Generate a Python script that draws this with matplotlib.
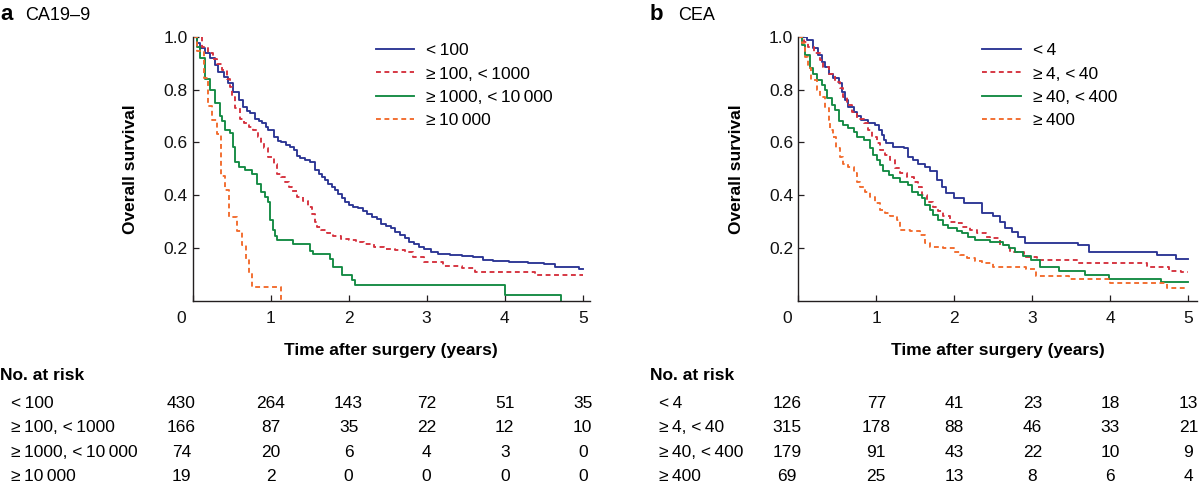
import matplotlib
matplotlib.use('Agg')
import matplotlib.pyplot as plt
import matplotlib.transforms as mtransforms
from matplotlib.lines import Line2D

plt.rcParams['font.family'] = ['Liberation Sans', 'DejaVu Sans']

TS = '\u2009'

# ---------------- Data: panel a (CA19-9) ----------------
ca_labels = [f'<{TS}100', f'≥{TS}100, <{TS}1000', f'≥{TS}1000, <{TS}10{TS}000', f'≥{TS}10{TS}000']

ca_lt100_t = [0, 0.06, 0.10, 0.16, 0.22, 0.29, 0.33, 0.40, 0.46, 0.52, 0.59, 0.65, 0.70, 0.74, 0.80,
              0.85, 0.89, 0.94, 0.97, 1.04, 1.10, 1.14, 1.20, 1.25, 1.30, 1.34, 1.38, 1.44, 1.51, 1.57,
              1.62, 1.66, 1.70, 1.74, 1.79, 1.83, 1.87, 1.91, 1.96, 2.00, 2.06, 2.12, 2.18, 2.24, 2.30,
              2.36, 2.42, 2.48, 2.54, 2.60, 2.66, 2.72, 2.78, 2.84, 2.90, 2.97, 3.05, 3.15, 3.30, 3.45,
              3.60, 3.72, 3.85, 4.05, 4.30, 4.50, 4.65, 4.80, 4.95, 5.0]
ca_lt100_s = [1, 0.975, 0.956, 0.937, 0.918, 0.893, 0.867, 0.848, 0.823, 0.79, 0.76, 0.735, 0.72, 0.71, 0.69,
              0.68, 0.672, 0.66, 0.646, 0.62, 0.605, 0.60, 0.59, 0.583, 0.57, 0.55, 0.54, 0.533, 0.527, 0.495,
              0.48, 0.47, 0.456, 0.444, 0.43, 0.42, 0.405, 0.388, 0.375, 0.362, 0.355, 0.35, 0.34, 0.33, 0.318,
              0.31, 0.293, 0.285, 0.275, 0.262, 0.25, 0.237, 0.225, 0.215, 0.205, 0.195, 0.186, 0.177, 0.174, 0.17,
              0.168, 0.155, 0.152, 0.146, 0.142, 0.139, 0.13, 0.127, 0.121, 0.121]

ca_100_1000_t = [0, 0.12, 0.20, 0.26, 0.32, 0.38, 0.44, 0.48, 0.51, 0.55, 0.61, 0.66, 0.72, 0.78, 0.84,
                 0.88, 0.92, 0.97, 1.04, 1.08, 1.14, 1.19, 1.24, 1.28, 1.34, 1.42, 1.48, 1.53, 1.57, 1.60,
                 1.65, 1.72, 1.80, 1.90, 2.00, 2.10, 2.20, 2.32, 2.45, 2.60, 2.72, 2.82, 2.96, 3.21, 3.45,
                 3.62, 4.39, 5.0]
ca_100_1000_s = [1, 0.962, 0.94, 0.915, 0.895, 0.875, 0.84, 0.81, 0.77, 0.73, 0.69, 0.675, 0.66, 0.646, 0.62,
                 0.60, 0.58, 0.545, 0.52, 0.48, 0.47, 0.45, 0.43, 0.415, 0.394, 0.38, 0.356, 0.33, 0.30, 0.28,
                 0.27, 0.258, 0.245, 0.236, 0.23, 0.222, 0.215, 0.205, 0.198, 0.193, 0.187, 0.165, 0.146, 0.134, 0.124,
                 0.11, 0.098, 0.098]

ca_1000_10000_t = [0, 0.06, 0.10, 0.16, 0.22, 0.29, 0.35, 0.38, 0.42, 0.48, 0.52, 0.55, 0.59, 0.67, 0.76,
                   0.82, 0.88, 0.93, 0.97, 0.99, 1.03, 1.06, 1.08, 1.29, 1.51, 1.55, 1.76, 1.80, 1.91, 2.04,
                   2.08, 4.0, 4.72]
ca_1000_10000_s = [1, 0.96, 0.92, 0.84, 0.80, 0.75, 0.70, 0.68, 0.646, 0.634, 0.583, 0.527, 0.508, 0.495, 0.482,
                   0.444, 0.413, 0.394, 0.375, 0.305, 0.268, 0.245, 0.23, 0.217, 0.19, 0.179, 0.16, 0.13, 0.097, 0.078,
                   0.06, 0.023, 0.0]

ca_ge10000_t = [0, 0.06, 0.15, 0.20, 0.25, 0.31, 0.37, 0.42, 0.47, 0.57, 0.63, 0.69, 0.72, 0.76, 1.14]
ca_ge10000_s = [1, 0.947, 0.842, 0.737, 0.684, 0.632, 0.474, 0.421, 0.316, 0.263, 0.211, 0.158, 0.105, 0.053, 0.0]

ca_risk_lt100 = [430, 264, 143, 72, 51, 35]
ca_risk_100_1000 = [166, 87, 35, 22, 12, 10]
ca_risk_1000_10000 = [74, 20, 6, 4, 3, 0]
ca_risk_ge10000 = [19, 2, 0, 0, 0, 0]

# ---------------- Data: panel b (CEA) ----------------
cea_labels = [f'<{TS}4', f'≥{TS}4, <{TS}40', f'≥{TS}40, <{TS}400', f'≥{TS}400']

cea_lt4_t = [0, 0.11, 0.19, 0.26, 0.30, 0.34, 0.39, 0.45, 0.52, 0.56, 0.60, 0.64, 0.71, 0.75, 0.81,
             0.90, 0.99, 1.03, 1.07, 1.10, 1.13, 1.22, 1.35, 1.41, 1.47, 1.54, 1.62, 1.69, 1.78, 1.84,
             1.90, 1.99, 2.12, 2.36, 2.49, 2.59, 2.65, 2.74, 2.82, 2.91, 3.58, 3.72, 4.60, 4.84, 5.0]
cea_lt4_s = [1, 0.987, 0.956, 0.93, 0.905, 0.887, 0.86, 0.842, 0.824, 0.79, 0.76, 0.735, 0.716, 0.70, 0.685,
             0.672, 0.666, 0.647, 0.628, 0.61, 0.597, 0.584, 0.578, 0.546, 0.533, 0.52, 0.508, 0.49, 0.458, 0.433,
             0.408, 0.389, 0.37, 0.332, 0.32, 0.30, 0.275, 0.262, 0.244, 0.22, 0.21, 0.186, 0.174, 0.16, 0.16]

cea_4_40_t = [0, 0.07, 0.13, 0.20, 0.28, 0.32, 0.40, 0.47, 0.54, 0.58, 0.62, 0.69, 0.75, 0.84, 0.90,
              0.94, 1.01, 1.05, 1.11, 1.18, 1.24, 1.30, 1.39, 1.48, 1.54, 1.58, 1.65, 1.73, 1.79, 1.86,
              1.94, 2.03, 2.10, 2.20, 2.29, 2.40, 2.46, 2.59, 2.72, 2.89, 3.06, 3.59, 4.47, 4.75, 4.90, 5.0]
cea_4_40_s = [1, 0.98, 0.962, 0.94, 0.912, 0.887, 0.86, 0.83, 0.805, 0.773, 0.742, 0.716, 0.69, 0.672, 0.647,
              0.62, 0.597, 0.572, 0.553, 0.534, 0.502, 0.483, 0.47, 0.452, 0.433, 0.40, 0.376, 0.357, 0.339, 0.32,
              0.30, 0.294, 0.28, 0.27, 0.257, 0.244, 0.237, 0.212, 0.187, 0.168, 0.155, 0.142, 0.127, 0.115, 0.108, 0.108]

cea_40_400_t = [0, 0.05, 0.09, 0.15, 0.19, 0.24, 0.30, 0.34, 0.37, 0.43, 0.47, 0.52, 0.58, 0.64, 0.71,
                0.75, 0.84, 0.92, 0.96, 1.01, 1.05, 1.09, 1.16, 1.22, 1.30, 1.41, 1.46, 1.54, 1.58, 1.63,
                1.69, 1.73, 1.79, 1.86, 1.92, 2.03, 2.10, 2.17, 2.26, 2.46, 2.62, 2.70, 2.78, 2.88, 2.98,
                3.10, 3.34, 3.68, 3.98, 4.65, 5.0]
cea_40_400_s = [1, 0.97, 0.93, 0.88, 0.86, 0.836, 0.817, 0.80, 0.767, 0.742, 0.723, 0.68, 0.666, 0.654, 0.64,
                0.62, 0.61, 0.578, 0.553, 0.535, 0.515, 0.49, 0.477, 0.465, 0.452, 0.44, 0.414, 0.40, 0.389, 0.364,
                0.345, 0.326, 0.307, 0.288, 0.276, 0.263, 0.257, 0.244, 0.231, 0.225, 0.212, 0.20, 0.187, 0.17, 0.155,
                0.13, 0.115, 0.097, 0.083, 0.071, 0.071]

cea_ge400_t = [0, 0.05, 0.09, 0.13, 0.17, 0.24, 0.28, 0.34, 0.39, 0.41, 0.45, 0.49, 0.54, 0.58, 0.64,
               0.71, 0.75, 0.79, 0.86, 0.92, 0.99, 1.05, 1.11, 1.18, 1.26, 1.31, 1.43, 1.56, 1.63, 1.69,
               1.86, 1.99, 2.07, 2.16, 2.26, 2.36, 2.49, 2.92, 3.05, 3.47, 4.0, 4.72, 5.0]
cea_ge400_s = [1, 0.975, 0.924, 0.88, 0.836, 0.80, 0.773, 0.73, 0.685, 0.647, 0.62, 0.578, 0.546, 0.52, 0.508,
               0.483, 0.452, 0.433, 0.414, 0.395, 0.37, 0.345, 0.332, 0.32, 0.307, 0.27, 0.263, 0.25, 0.219, 0.206,
               0.20, 0.187, 0.175, 0.162, 0.15, 0.142, 0.13, 0.12, 0.095, 0.083, 0.068, 0.05, 0.05]

cea_risk_lt4 = [126, 77, 41, 23, 18, 13]
cea_risk_4_40 = [315, 178, 88, 46, 33, 21]
cea_risk_40_400 = [179, 91, 43, 22, 10, 9]
cea_risk_ge400 = [69, 25, 13, 8, 6, 4]

risk_times = [0, 1, 2, 3, 4, 5]
xticks = [0, 1, 2, 3, 4, 5]
yticks = [0.2, 0.4, 0.6, 0.8, 1.0]
ytick_labels = ['0.2', '0.4', '0.6', '0.8', '1.0']

# ---------------- Styles ----------------
colors = ['#2b3594', '#d5313d', '#138a43', '#f26a2b']
styles = ['-', (0, (2.6, 1.9)), '-', (0, (2.6, 1.9))]
LW = 1.35
FS = 12.5
SPINE = '#231f20'

W, H = 1200, 490
fig = plt.figure(figsize=(W / 100, H / 100), dpi=100)
fig.patch.set_facecolor('white')


def draw_panel(left_px, xmax, curves, labels, risks, letter, title,
               letter_px, title_px, header_px, rowlab_px):
    ax_bottom_px, ax_top_px = 301.0, 36.7
    width_px = xmax * 78.05
    ax = fig.add_axes([left_px / W, 1 - ax_bottom_px / H, width_px / W, (ax_bottom_px - ax_top_px) / H])
    handles = []
    for (t, s), c, ls in zip(curves, colors, styles):
        ax.step(t, s, where='post', color=c, lw=LW, linestyle=ls)
        handles.append(Line2D([], [], color=c, lw=LW, linestyle=ls))
    ax.set_xlim(0, xmax)
    ax.set_ylim(0, 1.0)
    ax.set_xticks(xticks)
    ax.set_xticklabels([str(v) for v in xticks])
    ax.set_yticks(yticks)
    ax.set_yticklabels(ytick_labels)
    for sp in ['top', 'right']:
        ax.spines[sp].set_visible(False)
    for sp in ['left', 'bottom']:
        ax.spines[sp].set_linewidth(1.0)
        ax.spines[sp].set_color(SPINE)
    ax.tick_params(axis='both', direction='in', length=4, width=0.9, color=SPINE,
                   labelsize=FS, labelcolor='#111111')
    ax.tick_params(axis='x', pad=7)
    ax.tick_params(axis='y', pad=3.5)
    # first x tick label sits slightly to the left of the origin
    shift = mtransforms.ScaledTranslation(-11 / 100, 0, fig.dpi_scale_trans)
    lbl0 = ax.get_xticklabels()[0]
    lbl0.set_transform(lbl0.get_transform() + shift)

    ax.set_xlabel('Time after surgery (years)', fontsize=FS, fontweight='bold', va='center')
    ax.xaxis.set_label_coords(0.5, (ax_bottom_px - 350) / (ax_bottom_px - ax_top_px))
    ax.set_ylabel('Overall survival', fontsize=FS, fontweight='bold', va='center')
    ax.yaxis.set_label_coords(-62.0 / width_px, 0.5)

    ax.legend(handles, labels, loc='upper left', bbox_to_anchor=(0.462, 0.976), frameon=False,
              borderaxespad=0, borderpad=0, handlelength=2.2, handletextpad=0.7,
              labelspacing=0.47, fontsize=FS)

    # panel letter + title
    fig.text(letter_px / W, 1 - 15 / H, letter, fontsize=16, fontweight='bold', va='center', ha='left')
    fig.text(title_px / W, 1 - 15 / H, title, fontsize=13, va='center', ha='left')

    # risk table
    fig.text(header_px / W, 1 - 375 / H, 'No. at risk', fontsize=FS, fontweight='bold', va='center', ha='left')
    row_y = [403, 427.5, 452, 476]
    blend = mtransforms.blended_transform_factory(ax.transData, fig.transFigure)
    for lab, vals, y in zip(labels, risks, row_y):
        fig.text(rowlab_px / W, 1 - y / H, lab, fontsize=FS, va='center', ha='left')
        for i, (tt, v) in enumerate(zip(risk_times, vals)):
            tr = blend + shift if i == 0 else blend
            ax.text(tt, 1 - y / H, str(v), transform=tr, fontsize=FS, ha='center', va='center',
                    clip_on=False)
    return ax


draw_panel(192.5, 5.09,
           [(ca_lt100_t, ca_lt100_s), (ca_100_1000_t, ca_100_1000_s),
            (ca_1000_10000_t, ca_1000_10000_s), (ca_ge10000_t, ca_ge10000_s)],
           ca_labels,
           [ca_risk_lt100, ca_risk_100_1000, ca_risk_1000_10000, ca_risk_ge10000],
           'a', 'CA19\u20139', 0, 25, 0, 11)

draw_panel(798.2, 5.11,
           [(cea_lt4_t, cea_lt4_s), (cea_4_40_t, cea_4_40_s),
            (cea_40_400_t, cea_40_400_s), (cea_ge400_t, cea_ge400_s)],
           cea_labels,
           [cea_risk_lt4, cea_risk_4_40, cea_risk_40_400, cea_risk_ge400],
           'b', 'CEA', 650, 678, 650, 659)

fig.savefig('out.png', dpi=100, facecolor='white')
